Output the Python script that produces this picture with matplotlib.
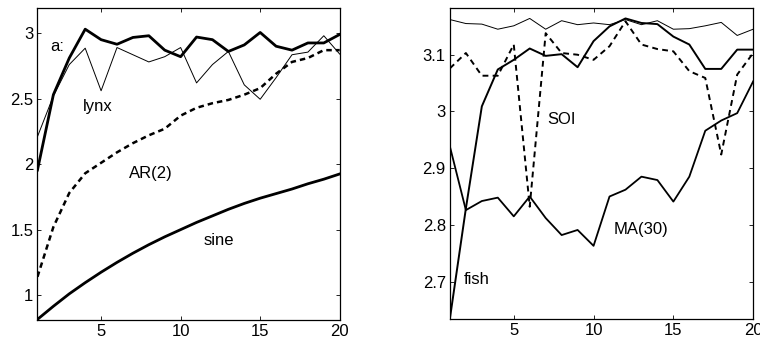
import numpy as np
import matplotlib
matplotlib.use("Agg")
import matplotlib.pyplot as plt

plt.rcParams['font.family'] = ['Liberation Sans Narrow', 'Liberation Sans', 'DejaVu Sans']

lags = np.arange(1, 21)

# panel a
lynx_thin = [2.21, 2.52, 2.76, 2.885, 2.56, 2.89, 2.835, 2.78, 2.82, 2.89,
             2.62, 2.76, 2.86, 2.605, 2.495, 2.66, 2.835, 2.855, 2.98, 2.84]
lynx_thick = [1.955, 2.53, 2.81, 3.03, 2.95, 2.915, 2.967, 2.98, 2.87, 2.82,
              2.97, 2.95, 2.86, 2.91, 3.005, 2.90, 2.87, 2.925, 2.925, 2.99]
ar2 = [1.14, 1.52, 1.78, 1.93, 2.01, 2.09, 2.16, 2.22, 2.27, 2.37,
       2.43, 2.465, 2.49, 2.53, 2.58, 2.69, 2.78, 2.81, 2.87, 2.87]
sine = [0.815, 0.915, 1.01, 1.095, 1.175, 1.25, 1.32, 1.385, 1.445, 1.50,
        1.555, 1.605, 1.655, 1.70, 1.74, 1.775, 1.81, 1.85, 1.885, 1.925]

# panel b
top_thin = [3.162, 3.155, 3.154, 3.145, 3.151, 3.164, 3.145, 3.16, 3.153, 3.156,
            3.153, 3.162, 3.153, 3.16, 3.145, 3.146, 3.151, 3.157, 3.134, 3.145]
fish = [2.635, 2.829, 3.009, 3.074, 3.091, 3.111, 3.098, 3.101, 3.078, 3.124,
        3.15, 3.164, 3.156, 3.154, 3.132, 3.118, 3.075, 3.075, 3.109, 3.109]
ma30 = [2.938, 2.826, 2.842, 2.848, 2.815, 2.85, 2.812, 2.782, 2.791, 2.763,
        2.85, 2.862, 2.885, 2.879, 2.841, 2.885, 2.966, 2.984, 2.997, 3.053]
soi = [3.076, 3.103, 3.063, 3.063, 3.118, 2.832, 3.138, 3.103, 3.10, 3.091,
       3.115, 3.159, 3.118, 3.11, 3.106, 3.071, 3.059, 2.924, 3.065, 3.103]

fig = plt.figure(figsize=(7.6, 3.43), dpi=100)
ax1 = fig.add_axes([0.0493, 0.067, 0.3977, 0.909])
ax2 = fig.add_axes([0.592, 0.070, 0.399, 0.906])

ax1.plot(lags, lynx_thin, color='black', lw=0.7)
ax1.plot(lags, lynx_thick, color='black', lw=2.0)
ax1.plot(lags, ar2, color='black', lw=1.8, ls=(0, (2.2, 1.6)))
ax1.plot(lags, sine, color='black', lw=2.0)
ax1.set_xlim(1, 20)
ax1.set_ylim(0.81, 3.19)
ax1.set_xticks([5, 10, 15, 20])
ax1.set_yticks([1, 1.5, 2, 2.5, 3])
ax1.set_yticklabels(['1', '1.5', '2', '2.5', '3'])
fs = 12
ax1.text(1.8, 2.90, 'a:', fontsize=fs, va='center')
ax1.text(3.85, 2.44, 'lynx', fontsize=fs, va='center')
ax1.text(6.78, 1.93, 'AR(2)', fontsize=fs, va='center')
ax1.text(11.46, 1.42, 'sine', fontsize=fs, va='center')

ax2.plot(lags, top_thin, color='black', lw=0.7)
ax2.plot(lags, fish, color='black', lw=1.4)
ax2.plot(lags, ma30, color='black', lw=1.3)
ax2.plot(lags, soi, color='black', lw=1.4, ls=(0, (3, 2.2)))
ax2.set_xlim(1, 20)
ax2.set_ylim(2.634, 3.182)
ax2.set_xticks([5, 10, 15, 20])
ax2.set_yticks([2.7, 2.8, 2.9, 3.0, 3.1])
ax2.set_yticklabels(['2.7', '2.8', '2.9', '3', '3.1'])
ax2.text(7.1, 2.985, 'SOI', fontsize=fs, va='center')
ax2.text(11.23, 2.791, 'MA(30)', fontsize=fs, va='center')
ax2.text(1.84, 2.703, 'fish', fontsize=fs, va='center')

for ax in (ax1, ax2):
    ax.tick_params(direction='in', top=True, right=True, length=3,
                   width=0.6, labelsize=fs, pad=3)
    for s in ax.spines.values():
        s.set_linewidth(0.9)

fig.savefig('out.png', dpi=100)
